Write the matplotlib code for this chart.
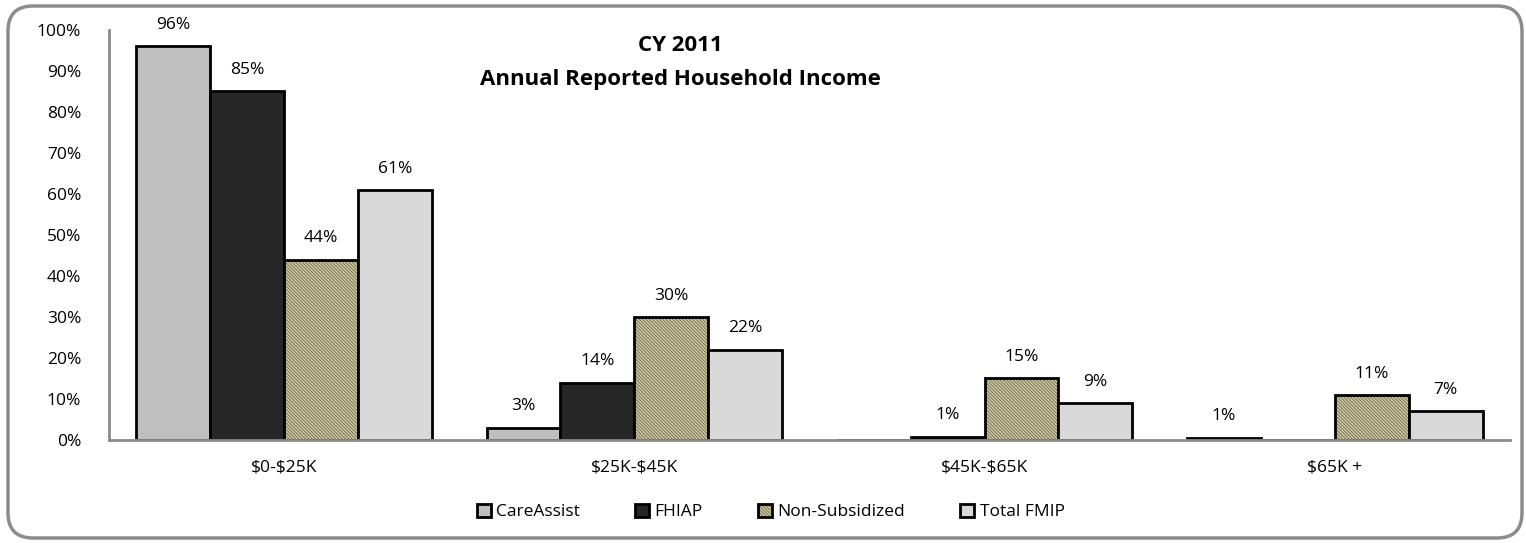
import numpy as np
from matplotlib import pyplot as plt
from matplotlib.patches import FancyBboxPatch

plt.rcParams['font.family'] = ['Open Sans', 'DejaVu Sans']
plt.rcParams['text.parse_math'] = False
plt.rcParams['hatch.linewidth'] = 1.1

categories = ['$0-$25K', '$25K-$45K', '$45K-$65K', '$65K +']
series = ['CareAssist', 'FHIAP', 'Non-Subsidized', 'Total FMIP']
care_assist = [96, 3, 0, 0.6]
fhiap = [85, 14, 0.8, 0]
non_subsidized = [44, 30, 15, 11]
total_fmip = [61, 22, 9, 7]
y_ticks = [0, 10, 20, 30, 40, 50, 60, 70, 80, 90, 100]

values = [care_assist, fhiap, non_subsidized, total_fmip]
colors = ['#bfbfbf', '#262626', '#ebe7d0', '#d9d9d9']
hatches = [None, None, '\\' * 10, None]

fig = plt.figure(figsize=(15.26, 5.43), dpi=100)
ax = fig.add_axes([0.0714, 0.1897, 0.9181, 0.7551])

x = np.arange(len(categories))
w = 0.211
for i, (name, vals) in enumerate(zip(series, values)):
    pos = x + (i - 1.5) * w
    bars = ax.bar(pos, vals, w, color=colors[i], edgecolor='black', linewidth=2,
                  hatch=hatches[i], label=name, zorder=2)
    if hatches[i]:
        for b in bars:
            b._hatch_color = (0.55, 0.52, 0.36, 1.0)
    for p, v in zip(pos, vals):
        if v > 0:
            ax.text(p, v + 5.2, f'{v:.0f}%', ha='center', va='center', fontsize=12.5)

ax.set_xlim(-0.5, 3.5)
ax.set_ylim(0, 100)
ax.set_yticks(y_ticks)
ax.set_yticklabels([f'{t}%' for t in y_ticks], fontsize=12.5)
ax.set_xticks(x)
ax.set_xticklabels(categories, fontsize=12.5)
ax.tick_params(length=0, pad=20, axis='y')
ax.tick_params(length=0, pad=14, axis='x')
for s in ['top', 'right']:
    ax.spines[s].set_visible(False)
for s in ['left', 'bottom']:
    ax.spines[s].set_color('#8c8c8c')
    ax.spines[s].set_linewidth(2)

fig.text(0.446, 0.917, 'CY 2011', ha='center', va='center', fontsize=16, fontweight='bold')
fig.text(0.446, 0.853, 'Annual Reported Household Income', ha='center', va='center',
         fontsize=16, fontweight='bold')

leg = fig.legend(loc='center', bbox_to_anchor=(0.505, 0.057), ncol=4, frameon=False,
                 fontsize=12.5, handlelength=0.8, handleheight=0.8, handletextpad=0.3,
                 columnspacing=3.2)

border = FancyBboxPatch((0.08, 0.05), 15.14, 5.32, boxstyle='round,pad=0,rounding_size=0.25',
                        transform=fig.dpi_scale_trans, facecolor='none', edgecolor='#8c8c8c',
                        linewidth=2.5)
fig.patches.append(border)

plt.savefig('out.png', dpi=100)
